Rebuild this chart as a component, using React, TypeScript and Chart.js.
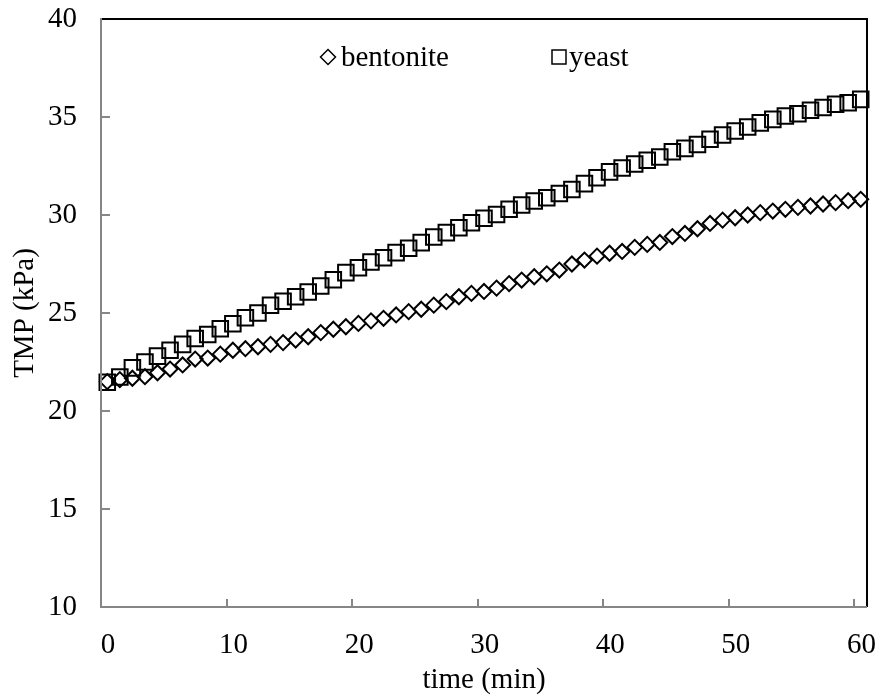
import React, { useEffect, useRef } from 'react';
import { Chart, registerables } from 'chart.js';

Chart.register(...registerables);

const timeMin = [
  0.5, 1.5, 2.5, 3.5, 4.5, 5.5, 6.5, 7.5, 8.5, 9.5,
  10.5, 11.5, 12.5, 13.5, 14.5, 15.5, 16.5, 17.5, 18.5, 19.5,
  20.5, 21.5, 22.5, 23.5, 24.5, 25.5, 26.5, 27.5, 28.5, 29.5,
  30.5, 31.5, 32.5, 33.5, 34.5, 35.5, 36.5, 37.5, 38.5, 39.5,
  40.5, 41.5, 42.5, 43.5, 44.5, 45.5, 46.5, 47.5, 48.5, 49.5,
  50.5, 51.5, 52.5, 53.5, 54.5, 55.5, 56.5, 57.5, 58.5, 59.5,
  60.5,
];

const bentonite = [
  21.5, 21.6, 21.67, 21.75, 21.95, 22.14, 22.35, 22.65, 22.7, 22.9,
  23.1, 23.18, 23.28, 23.4, 23.49, 23.62, 23.79, 24.0, 24.17, 24.3,
  24.47, 24.6, 24.73, 24.9, 25.07, 25.19, 25.4, 25.58, 25.83, 26.0,
  26.1, 26.27, 26.5, 26.68, 26.85, 27.0, 27.19, 27.5, 27.7, 27.9,
  28.05, 28.14, 28.35, 28.5, 28.6, 28.9, 29.06, 29.3, 29.57, 29.74,
  29.86, 30.0, 30.12, 30.2, 30.29, 30.39, 30.46, 30.56, 30.63, 30.73,
  30.8,
];

const yeast = [
  21.47, 21.73, 22.2, 22.5, 22.8, 23.1, 23.4, 23.7, 23.9, 24.2,
  24.45, 24.76, 25.0, 25.4, 25.6, 25.83, 26.07, 26.38, 26.7, 27.06,
  27.31, 27.6, 27.82, 28.08, 28.3, 28.59, 28.88, 29.1, 29.35, 29.6,
  29.83, 30.03, 30.29, 30.51, 30.71, 30.88, 31.1, 31.3, 31.6, 31.9,
  32.2, 32.4, 32.6, 32.79, 32.96, 33.23, 33.4, 33.6, 33.86, 34.08,
  34.29, 34.49, 34.7, 34.88, 35.05, 35.17, 35.34, 35.48, 35.65, 35.73,
  35.9,
];

const xTicks = [0, 10, 20, 30, 40, 50, 60];
const yTicks = [10, 15, 20, 25, 30, 35, 40];
const seriesNames = ['bentonite', 'yeast'];

const FONT_FAMILY = "'Liberation Serif', 'Times New Roman', serif";
const FONT_SIZE = 29;

const zeroPad = (s: any) => {
  s.paddingLeft = 0;
  s.paddingRight = 0;
  s.paddingTop = 0;
  s.paddingBottom = 0;
};

const framePlugin = {
  id: 'frame',
  afterDatasetsDraw(chart: any) {
    const { ctx, chartArea } = chart;
    const { left, right, top, bottom } = chartArea;
    const xs = chart.scales.x;
    const ys = chart.scales.y;
    ctx.save();
    ctx.lineCap = 'butt';
    ctx.strokeStyle = '#000';
    ctx.lineWidth = 2;
    ctx.beginPath();
    ctx.moveTo(left, top);
    ctx.lineTo(right, top);
    ctx.lineTo(right, bottom);
    ctx.stroke();
    ctx.strokeStyle = '#868686';
    ctx.beginPath();
    ctx.moveTo(left, top - 1);
    ctx.lineTo(left, bottom);
    ctx.lineTo(right, bottom);
    ctx.stroke();
    ctx.beginPath();
    xTicks.forEach((v) => {
      const px = Math.round(xs.getPixelForValue(v));
      if (px <= left + 1) return;
      ctx.moveTo(px, bottom);
      ctx.lineTo(px, bottom - 8);
    });
    yTicks.forEach((v) => {
      const py = Math.round(ys.getPixelForValue(v));
      if (py >= bottom - 1 || py <= top + 1) return;
      ctx.moveTo(left, py);
      ctx.lineTo(left + 9, py);
    });
    ctx.stroke();
    ctx.restore();
  },
};

const legendPlugin = {
  id: 'innerLegend',
  afterDraw(chart: any) {
    const { ctx } = chart;
    const cy = 57;
    ctx.save();
    ctx.strokeStyle = '#000';
    ctx.lineWidth = 1.5;
    const dx = 328;
    const dr = 7.5;
    ctx.beginPath();
    ctx.moveTo(dx, cy - dr);
    ctx.lineTo(dx + dr, cy);
    ctx.lineTo(dx, cy + dr);
    ctx.lineTo(dx - dr, cy);
    ctx.closePath();
    ctx.stroke();
    const sx = 559;
    const sh = 7;
    ctx.strokeRect(sx - sh, cy - sh, sh * 2, sh * 2);
    ctx.fillStyle = '#000';
    ctx.font = `${FONT_SIZE}px ${FONT_FAMILY}`;
    ctx.textBaseline = 'middle';
    ctx.textAlign = 'left';
    ctx.fillText(seriesNames[0], 341, cy + 1);
    ctx.fillText(seriesNames[1], 569, cy + 1);
    ctx.restore();
  },
};

export default function App() {
  const canvasRef = useRef<HTMLCanvasElement | null>(null);

  useEffect(() => {
    if (!canvasRef.current) return;
    const font = { family: FONT_FAMILY, size: FONT_SIZE };
    const chart = new Chart(canvasRef.current, {
      type: 'scatter',
      data: {
        datasets: [
          {
            label: seriesNames[0],
            data: timeMin.map((t, i) => ({ x: t, y: bentonite[i] })),
            pointStyle: 'rectRot',
            pointRadius: 7.5,
            pointBorderWidth: 2,
            pointBorderColor: '#000',
            pointBackgroundColor: 'rgba(0,0,0,0)',
            showLine: false,
            clip: false,
          },
          {
            label: seriesNames[1],
            data: timeMin.map((t, i) => ({ x: t, y: yeast[i] })),
            pointStyle: 'rect',
            pointRadius: 11,
            pointBorderWidth: 2,
            pointBorderColor: '#000',
            pointBackgroundColor: 'rgba(0,0,0,0)',
            showLine: false,
            clip: false,
          },
        ],
      },
      options: {
        animation: false,
        responsive: false,
        devicePixelRatio: 1,
        layout: { padding: { top: 19, right: 11, left: 0, bottom: 0 } },
        plugins: {
          legend: { display: false },
          tooltip: { enabled: false },
        },
        scales: {
          x: {
            type: 'linear',
            min: 0,
            max: 61,
            afterBuildTicks: (s: any) => {
              s.ticks = xTicks.map((v) => ({ value: v }));
            },
            afterFit: (s: any) => {
              s.height = 90;
              zeroPad(s);
            },
            grid: { display: false, drawTicks: false },
            border: { display: false },
            ticks: {
              font,
              color: '#000',
              padding: 21,
              labelOffset: 7,
              maxRotation: 0,
              autoSkip: false,
            },
            title: {
              display: true,
              text: 'time (min)',
              font,
              color: '#000',
              padding: { top: 0, bottom: -1 },
            },
          },
          y: {
            type: 'linear',
            min: 10,
            max: 40,
            afterBuildTicks: (s: any) => {
              s.ticks = yTicks.map((v) => ({ value: v }));
            },
            afterFit: (s: any) => {
              s.width = 101;
              zeroPad(s);
            },
            grid: { display: false, drawTicks: false },
            border: { display: false },
            ticks: {
              font,
              color: '#000',
              padding: 24,
              autoSkip: false,
            },
            title: {
              display: true,
              text: 'TMP (kPa)',
              font,
              color: '#000',
              padding: { top: 8, bottom: 0 },
            },
          },
        },
      },
      plugins: [framePlugin, legendPlugin],
    });
    return () => chart.destroy();
  }, []);

  return (
    <div style={{ position: 'fixed', left: 0, top: 0, width: 880, height: 697, background: '#fff' }}>
      <canvas ref={canvasRef} width={880} height={697} style={{ display: 'block', width: 880, height: 697 }} />
    </div>
  );
}
